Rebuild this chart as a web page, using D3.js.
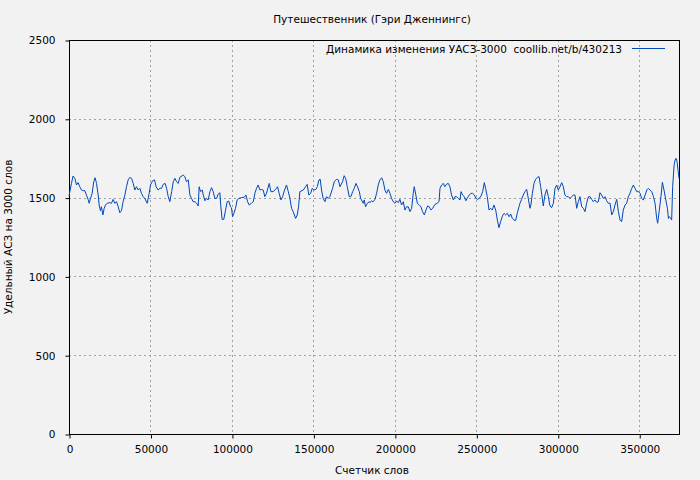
<!DOCTYPE html>
<html><head><meta charset="utf-8">
<script src="https://cdn.jsdelivr.net/npm/d3@7"></script>
<style>
body{margin:0;background:#f2f2f2;}
svg{display:block;}
text{font-family:"DejaVu Sans",sans-serif;font-size:10.5px;fill:#000;white-space:pre;}
</style></head>
<body><svg id="c" width="700" height="480"></svg>
<script>
const title = "Путешественник (Гэри Дженнингс)";
const xLabel = "Счетчик слов";
const yLabel = "Удельный АСЗ на 3000 слов";
const legendLabel = "Динамика изменения УАСЗ-3000  coollib.net/b/430213";
const xTicks = [0, 50000, 100000, 150000, 200000, 250000, 300000, 350000];
const yTicks = [0, 500, 1000, 1500, 2000, 2500];
const xMax = 374400;

// word counter, in thousands of words
const wordsK = [
0,1.5,2.5,3.6,4.6,5.6,6.6,7.7,8.7,9.7,10.7,11.7,12.4,13.2,14.2,15.2,16.0,16.9,17.9,18.5,19.3,19.9,20.8,21.6,22.4,23.4,25.1,26.1,27.1,28.1,29.2,30.2,31.2,32.2,33.2,34.3,35.3,36.3,37.3,38.4,39.4,40.4,41.4,42.5,43.5,44.5,45.5,46.5,48.0,49.2,50.0,51.3,52.5,53.5,54.7,55.8,56.8,57.8,59.0,59.9,60.9,61.9,63.0,64.0,65.0,66.0,67.0,68.0,70.1,71.1,72.1,73.2,74.2,75.2,76.2,77.3,78.3,79.3,79.9,80.7,81.8,82.4,83.4,84.4,85.4,86.5,87.5,88.5,89.5,90.6,91.6,92.6,
93.2,94.0,95.0,96.1,97.1,98.1,99.1,99.7,100.4,101.2,102.2,103.2,104.3,105.9,107.5,108.6,109.6,110.6,112.0,113.1,114.1,115.1,116.1,117.2,118.2,119.2,120.2,121.2,122.9,123.9,125.3,126.8,128.0,129.0,130.1,131.1,132.3,133.5,134.6,135.6,136.6,137.6,139.1,140.1,140.9,141.7,143.8,145.2,146.2,147.2,148.3,149.3,150.3,151.5,152.4,153.4,154.2,155.0,156.0,157.1,158.1,159.1,160.1,161.8,162.8,164.2,165.3,166.3,167.9,168.9,169.8,170.8,172.0,173.0,174.1,175.1,176.1,177.1,178.2,179.0,180.6,181.2,182.0,183.1,184.3,
184.7,185.7,186.7,187.8,188.8,189.8,190.8,191.9,192.9,193.9,194.9,196.0,197.0,198.0,199.0,200.0,201.1,202.1,203.1,204.1,205.2,206.2,207.2,208.2,209.3,210.3,211.3,211.9,212.9,213.8,215.0,216.0,217.0,218.1,219.1,220.1,221.1,222.2,223.2,224.6,226.0,227.1,227.7,228.7,229.7,230.7,231.8,232.8,233.8,234.8,235.9,236.9,237.9,238.9,240.0,240.6,241.6,242.6,243.6,244.7,245.7,246.7,247.7,248.8,249.8,250.8,251.8,252.9,253.9,254.9,255.7,256.7,257.8,258.8,259.8,260.8,261.9,262.9,263.9,264.9,266.0,267.0,268.0,269.0,270.1,271.1,272.1,273.1,274.1,275.2,276.2,
276.8,277.8,278.8,279.9,280.9,281.9,282.9,283.5,284.4,285.4,286.4,287.4,288.5,289.5,290.5,291.1,292.1,293.2,294.2,295.2,296.2,297.3,298.3,299.3,300.3,301.4,302.4,303.4,304.4,305.4,306.5,307.5,308.5,309.5,310.6,311.6,312.6,313.6,314.7,315.7,316.7,317.7,318.8,319.8,320.8,321.8,322.8,323.9,324.9,325.9,326.9,328.0,329.0,330.0,331.0,332.1,333.1,334.1,335.1,336.2,337.2,338.2,339.2,340.2,341.3,342.3,343.3,344.3,345.4,346.4,347.4,348.4,349.5,350.5,351.5,352.5,353.6,354.6,355.6,356.6,357.7,358.7,359.7,360.7,361.3,362.2,363.2,364.2,365.2,366.3,367.3,367.9,368.5,369.3,369.9,370.5,371.4,372.0,372.6,373.2,373.8,374.4
];
const values = [
1510,1590,1637,1622,1580,1595,1569,1548,1544,1544,1516,1489,1464,1495,1527,1601,1626,1590,1516,1453,1417,1442,1390,1432,1453,1464,1468,1464,1489,1464,1474,1442,1404,1417,1474,1516,1569,1612,1628,1622,1590,1548,1569,1548,1559,1527,1506,1495,1464,1527,1580,1607,1612,1569,1548,1559,1559,1584,1590,1559,1506,1474,1538,1601,1622,1601,1590,1628,1643,1633,1601,1612,1516,1495,1474,1474,1464,1447,1569,1538,1548,1516,1480,1495,1485,1538,1563,1538,1495,1495,1523,1531,
1442,1362,1362,1421,1474,1478,1442,1436,1379,1400,1432,1485,1495,1500,1502,1516,1474,1453,1464,1474,1527,1559,1580,1548,1552,1548,1506,1527,1590,1538,1538,1552,1569,1527,1485,1506,1548,1580,1538,1495,1432,1411,1368,1390,1442,1538,1548,1569,1584,1516,1527,1559,1548,1552,1569,1612,1616,1548,1495,1474,1506,1495,1506,1559,1601,1616,1612,1569,1601,1639,1622,1569,1506,1506,1538,1559,1590,1569,1538,1495,1464,1485,1442,1464,1474,
1468,1478,1474,1489,1527,1580,1612,1626,1601,1548,1527,1552,1527,1495,1474,1464,1478,1468,1489,1453,1474,1421,1442,1442,1411,1432,1527,1569,1516,1464,1453,1442,1411,1390,1421,1447,1442,1421,1432,1457,1464,1474,1559,1580,1590,1569,1586,1590,1569,1516,1485,1506,1506,1495,1485,1538,1516,1506,1480,1502,1516,1527,1527,1516,1495,1489,1495,1510,1538,1595,1559,1506,1421,1432,1421,1453,1421,1358,1309,1347,1383,1400,1390,1400,1379,1396,1368,1358,1354,1404,1442,
1464,1489,1516,1538,1552,1495,1432,1453,1527,1590,1616,1628,1633,1569,1495,1447,1516,1552,1506,1447,1436,1464,1559,1580,1548,1569,1595,1569,1516,1506,1506,1495,1506,1516,1516,1432,1474,1506,1442,1432,1411,1464,1506,1506,1489,1474,1485,1470,1474,1531,1516,1495,1506,1480,1464,1464,1390,1411,1453,1489,1411,1358,1347,1421,1453,1464,1506,1527,1559,1580,1559,1538,1538,1527,1495,1485,1516,1548,1559,1548,1538,1506,1464,1368,1337,1411,1495,1597,1548,1485,1432,1368,1379,1368,1358,1569,1707,1738,1749,1728,1675,1622
];

const data = wordsK.map((k, i) => ({x: k * 1000, y: values[i]}));

const L = 69, R = 679, T = 40, B = 434;
const svg = d3.select("#c");
const x = d3.scaleLinear().domain([0, xMax]).range([L, R]);
const y = d3.scaleLinear().domain([0, 2500]).range([B, T]);

// grid
const grid = svg.append("g").attr("stroke", "#a0a0a0").attr("stroke-width", 1).attr("stroke-dasharray", "2,3");
grid.selectAll("line.v").data(xTicks.filter(d => d > 0)).join("line")
  .attr("x1", d => Math.round(x(d)) + 0.5).attr("x2", d => Math.round(x(d)) + 0.5)
  .attr("y1", T).attr("y2", B);
grid.selectAll("line.h").data(yTicks.filter(d => d > 0 && d < 2500)).join("line")
  .attr("x1", L).attr("x2", R)
  .attr("y1", d => Math.round(y(d)) + 0.5).attr("y2", d => Math.round(y(d)) + 0.5);

// border
svg.append("rect").attr("x", L + 0.5).attr("y", T + 0.5).attr("width", R - L).attr("height", B - T)
  .attr("fill", "none").attr("stroke", "#000").attr("stroke-width", 1);

// axes
const xAxis = svg.append("g").attr("transform", `translate(0.5,${B + 0.5})`)
  .call(d3.axisBottom(x).tickValues(xTicks).tickFormat(d3.format("d")).tickSize(4).tickPadding(7));
const yAxis = svg.append("g").attr("transform", `translate(${L + 0.5},0.5)`)
  .call(d3.axisLeft(y).tickValues(yTicks).tickFormat(d3.format("d")).tickSize(4).tickPadding(10));
[xAxis, yAxis].forEach(a => {
  a.select(".domain").remove();
  a.selectAll("line").attr("stroke", "#000");
  a.selectAll("text").attr("font-family", "DejaVu Sans, sans-serif").attr("font-size", 10.5).attr("fill", "#000");
});

// line
const line = d3.line().x(d => x(d.x)).y(d => y(d.y));
svg.append("path").datum(data).attr("d", line)
  .attr("fill", "none").attr("stroke", "#0047bb").attr("stroke-width", 1);

// title & labels
svg.append("text").attr("x", (L + R) / 2 - 2).attr("y", 23).attr("text-anchor", "middle").text(title);
svg.append("text").attr("x", (L + R) / 2 - 2).attr("y", 474).attr("text-anchor", "middle").text(xLabel);
svg.append("text").attr("transform", `translate(12,${(T + B) / 2}) rotate(-90)`).attr("text-anchor", "middle").text(yLabel);

// legend
svg.append("text").attr("x", 622).attr("y", 53).attr("text-anchor", "end").attr("xml:space", "preserve").text(legendLabel);
svg.append("line").attr("x1", 632).attr("x2", 665).attr("y1", 48.5).attr("y2", 48.5)
  .attr("stroke", "#0047bb").attr("stroke-width", 1);
</script></body></html>
